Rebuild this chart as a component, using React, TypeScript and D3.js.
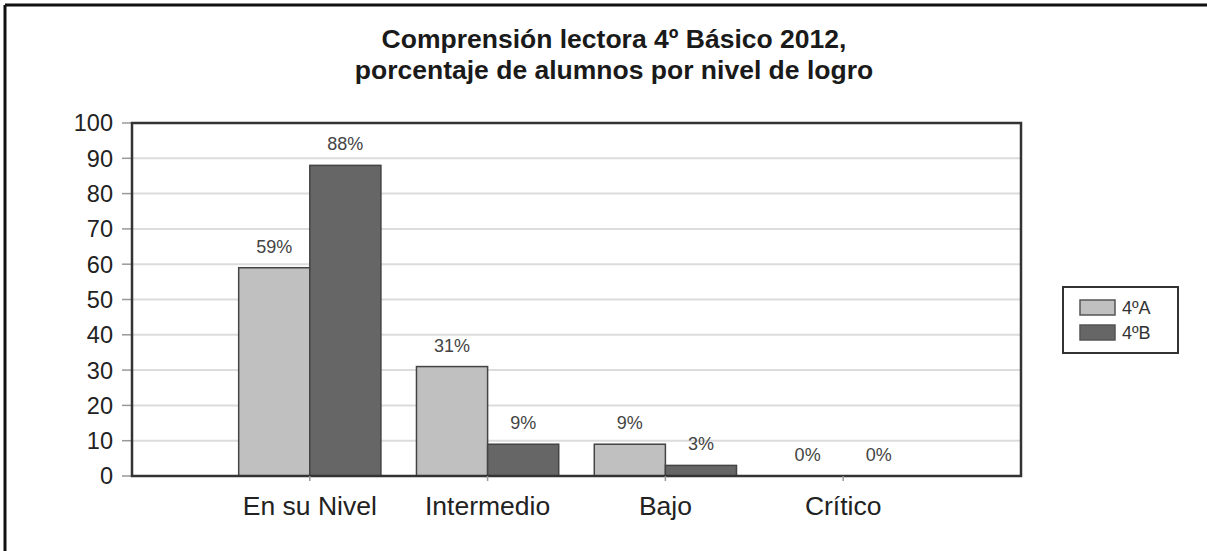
import React from "react";
import * as d3 from "d3";

const titleLines = ["Comprensión lectora 4º Básico 2012,", "porcentaje de alumnos por nivel de logro"];
const categories = ["En su Nivel", "Intermedio", "Bajo", "Crítico"];
const seriesNames = ["4ºA", "4ºB"];
const valuesA = [59, 31, 9, 0];
const valuesB = [88, 9, 3, 0];
const yTicks = [0, 10, 20, 30, 40, 50, 60, 70, 80, 90, 100];
const colors = ["#c0c0c0", "#666666"];

const W = 1207;
const H = 551;
const plot = { left: 132, right: 1021, top: 123, bottom: 476 };

export default function App() {
  const x = d3.scalePoint<string>().domain(categories).range([plot.left, plot.right]).padding(1);
  const y = d3.scaleLinear().domain([0, 100]).range([plot.bottom, plot.top]);
  const step = x.step();
  const bw = step * 0.4;
  const series = [valuesA, valuesB];
  const font = "Arial, 'Liberation Sans', Helvetica, sans-serif";

  return (
    <svg width={W} height={H} style={{ position: "absolute", left: 0, top: 0, background: "#fff" }} fontFamily={font}>
      <rect x={0} y={0} width={W} height={H} fill="#fff" />
      {/* outer frame (top and left) */}
      <line x1={5} y1={5} x2={W} y2={5} stroke="#111" strokeWidth={3} />
      <line x1={5} y1={5} x2={5} y2={H} stroke="#111" strokeWidth={3} />

      {titleLines.map((t, i) => (
        <text key={i} x={614} y={48 + i * 31} textAnchor="middle" fontSize={26.5} fontWeight="bold" fill="#1a1a1a">
          {t}
        </text>
      ))}

      {/* gridlines */}
      {yTicks.filter((v) => v > 0 && v < 100).map((v) => (
        <line key={v} x1={plot.left} x2={plot.right} y1={y(v)} y2={y(v)} stroke="#dcdcdc" strokeWidth={2} />
      ))}

      {/* y ticks */}
      {yTicks.map((v) => (
        <g key={v}>
          <line x1={plot.left - 10} x2={plot.left} y1={y(v)} y2={y(v)} stroke="#999" strokeWidth={1.5} />
          <text x={113} y={y(v)} dy="0.36em" textAnchor="end" fontSize={23.5} fill="#222">
            {v}
          </text>
        </g>
      ))}

      {/* bars */}
      {categories.map((c, ci) => (
        <g key={c}>
          {series.map((vals, si) => {
            const x0 = (x(c) as number) - bw + si * bw;
            const yv = y(vals[ci]);
            return (
              <g key={si}>
                {vals[ci] > 0 && (
                  <rect x={x0} y={yv} width={bw} height={plot.bottom - yv} fill={colors[si]} stroke="#444" strokeWidth={1.5} />
                )}
                <text x={x0 + bw / 2} y={yv - 15} textAnchor="middle" fontSize={18} fill="#444">
                  {vals[ci]}%
                </text>
              </g>
            );
          })}
        </g>
      ))}

      {/* plot frame */}
      <rect x={plot.left} y={plot.top} width={plot.right - plot.left} height={plot.bottom - plot.top} fill="none" stroke="#333" strokeWidth={2.5} />

      {/* x ticks and labels */}
      {categories.map((c) => (
        <g key={c}>
          <line x1={x(c)} x2={x(c)} y1={plot.bottom} y2={plot.bottom + 5} stroke="#999" strokeWidth={1.5} />
          <text x={x(c)} y={515} textAnchor="middle" fontSize={26.5} fill="#222">
            {c}
          </text>
        </g>
      ))}

      {/* legend */}
      <rect x={1063} y={287} width={115} height={66} fill="#fff" stroke="#333" strokeWidth={2} />
      {seriesNames.map((n, i) => (
        <g key={n}>
          <rect x={1080} y={300 + i * 25} width={35} height={15} fill={colors[i]} stroke="#555" strokeWidth={1.5} />
          <text x={1122} y={307.5 + i * 25} dy="0.36em" fontSize={18} fill="#333">
            {n}
          </text>
        </g>
      ))}
    </svg>
  );
}
